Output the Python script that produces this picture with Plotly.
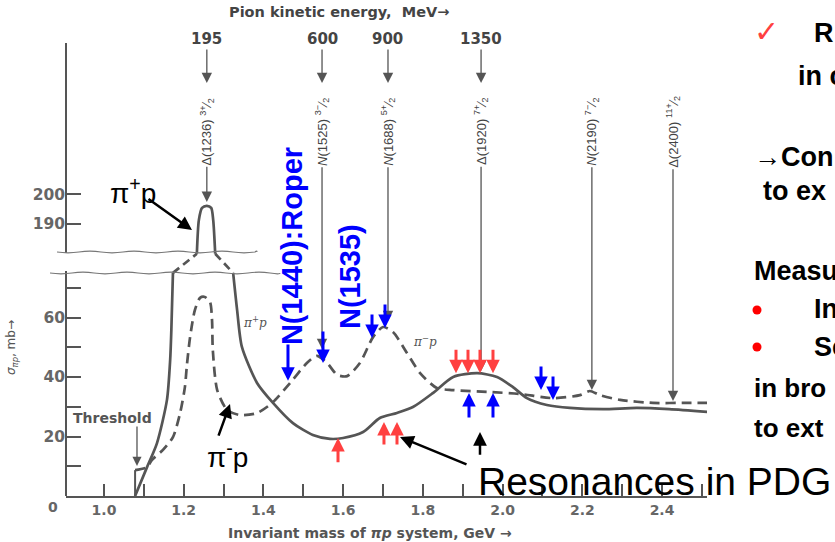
import plotly.graph_objects as go

# ---------------- values ----------------
# pi+ p total cross section (solid), invariant mass in GeV, sigma in mb
pip_mass = [1.078, 1.108, 1.133, 1.158, 1.166, 1.169, 1.173,
            1.233, 1.238, 1.246, 1.258, 1.269, 1.274, 1.279,
            1.324, 1.334, 1.346, 1.384, 1.424, 1.474, 1.524, 1.567, 1.600,
            1.650, 1.692, 1.735, 1.775, 1.825, 1.876, 1.936, 1.986, 2.026,
            2.061, 2.111, 2.169, 2.252, 2.337, 2.418, 2.520]
pip_sigma = [0, 9.7, 17.8, 32.3, 45.7, 55.8, 75,
             180, 191.3, 195.4, 196.1, 195.4, 191.3, 180,
             75, 62.5, 50.1, 38.0, 31.3, 24.5, 20.5, 19.2, 19.5,
             21.5, 26.2, 27.9, 29.9, 34.6, 40.0, 41.3, 40.0, 36.6,
             32.9, 30.6, 29.6, 29.2, 29.6, 29.2, 28.2]

# pi- p total cross section (dashed)
pim_mass = [1.078, 1.108, 1.120, 1.148, 1.173, 1.191, 1.203, 1.208, 1.216,
            1.228, 1.241, 1.253, 1.266, 1.271, 1.273, 1.284, 1.309, 1.341,
            1.384, 1.422, 1.467, 1.509, 1.534, 1.560, 1.585, 1.610, 1.642,
            1.675, 1.700, 1.725, 1.760, 1.793, 1.835, 1.876, 1.961, 2.044,
            2.126, 2.194, 2.219, 2.244, 2.295, 2.377, 2.463, 2.520]
pim_sigma = [8.7, 9.7, 12.1, 15.5, 19.8, 27.9, 36.6, 44.0, 53.4,
             62.5, 66.6, 66.9, 65.2, 59.2, 49.1, 35.6, 28.9, 27.2,
             27.9, 31.3, 38.0, 44.7, 47.1, 44.7, 40.7, 40.3, 44.7,
             53.4, 56.8, 55.1, 48.1, 41.3, 36.3, 35.6, 35.0, 34.3,
             32.9, 33.9, 35.3, 33.9, 32.3, 31.3, 31.3, 31.3]

x_tick_vals = [1.0, 1.1, 1.2, 1.3, 1.4, 1.5, 1.6, 1.7, 1.8, 1.9, 2.0, 2.1, 2.2, 2.3, 2.4, 2.5]
x_tick_text = ["1.0", "", "1.2", "", "1.4", "", "1.6", "", "1.8", "", "2.0", "", "2.2", "", "2.4", ""]
y_tick_vals = [10, 20, 30, 40, 50, 60, 70, 190, 200]
y_tick_text = ["", "20", "", "40", "", "60", "", "190", "200"]

# pion kinetic energy scale (top)
energy_text = ["195", "600", "900", "1350"]
energy_mass = [1.258, 1.547, 1.7125, 1.946]

# resonances marked on the figure
res_name = ["\u0394(1236)", "<i>N</i>(1525)", "<i>N</i>(1688)",
            "\u0394(1920)", "<i>N</i>(2190)", "\u0394(2400)"]
res_jp = [("3", "+"), ("3", "\u2212"), ("5", "+"), ("7", "+"), ("7", "\u2212"), ("11", "+")]
res_mass = [1.258, 1.547, 1.7125, 1.946, 2.224, 2.4275]
res_sigma = [197.4, 49.4, 58.8, 42.0, 35.6, 31.9]

# overlay arrows (mass, tail sigma, head sigma)
blue_mass = [1.4616, 1.5494, 1.6724, 1.7050, 2.0964, 2.1265, 1.9157, 1.9759]
blue_tail = [51.4, 55.8, 61.5, 64.9, 44.0, 40.7, 25.9, 25.9]
blue_head = [38.7, 44.7, 53.1, 56.5, 35.6, 32.3, 34.6, 34.6]
red_mass = [1.8831, 1.9132, 1.9433, 1.9759, 1.5871, 1.7024, 1.7351]
red_tail = [49.7, 49.7, 49.7, 49.7, 10.8, 16.8, 16.8]
red_head = [41.3, 41.3, 41.3, 41.3, 19.5, 24.9, 24.9]

# ---------------- broken y axis ----------------
GAP_LOW, GAP_HIGH = 75.0, 180.0          # sigma at the two break lines
GAP_LOW_POS, GAP_HIGH_POS = 75.0, 81.43  # axis position of the break lines


def ty(s):
    if s <= GAP_LOW:
        return s
    if s >= GAP_HIGH:
        return s - GAP_HIGH + GAP_HIGH_POS
    return GAP_LOW_POS + (s - GAP_LOW) * (GAP_HIGH_POS - GAP_LOW_POS) / (GAP_HIGH - GAP_LOW)


W, H = 835, 542
INK = "#555555"
FIG_FONT = "DejaVu Sans"
SANS = "Liberation Sans, Arial, sans-serif"
BLUE = "#0000FF"
RED = "#FF4040"

fig = go.Figure()


def add_curve(mass, sigma, dashed):
    runs, cur = [], [0]
    for i in range(len(mass) - 1):
        a, b = sigma[i], sigma[i + 1]
        cross = (a <= GAP_LOW and b >= GAP_HIGH) or (a >= GAP_HIGH and b <= GAP_LOW)
        if cross:
            if len(cur) > 1:
                runs.append((cur, False))
            runs.append(([i, i + 1], True))
            cur = [i + 1]
        else:
            cur.append(i + 1)
    if len(cur) > 1:
        runs.append((cur, False))
    for idx, gap in runs:
        fig.add_trace(go.Scatter(
            x=[mass[j] for j in idx], y=[ty(sigma[j]) for j in idx], mode="lines",
            line=dict(color=INK, width=2.7,
                      dash=("8px,5px" if gap else ("10px,6px" if dashed else "solid")),
                      shape=("linear" if gap else "spline"), smoothing=0.7),
            hoverinfo="skip", showlegend=False))


add_curve(pip_mass, pip_sigma, False)
add_curve(pim_mass, pim_sigma, True)
# vertical step of the pi- p curve at threshold
fig.add_trace(go.Scatter(x=[pim_mass[0], pim_mass[0]], y=[0, pim_sigma[0]], mode="lines",
                         line=dict(color=INK, width=2), hoverinfo="skip", showlegend=False))

ann = []


def arrow(x, y_tail, y_head, color, width, size, x_tail=None, text="", font=None, angle=0):
    a = dict(x=x, y=y_head, ax=(x if x_tail is None else x_tail), ay=y_tail,
             xref="x", yref="y", axref="x", ayref="y", text=text, showarrow=True,
             arrowhead=2, arrowsize=size, arrowwidth=width, arrowcolor=color,
             textangle=angle, standoff=0)
    if font:
        a["font"] = font
    ann.append(a)


def label(x, y, text, size, color=INK, family=SANS, angle=0, xanchor="center",
          xref="x", yref="y"):
    ann.append(dict(x=x, y=y, xref=xref, yref=yref, text=text, showarrow=False,
                    font=dict(family=family, size=size, color=color),
                    textangle=angle, xanchor=xanchor, yanchor="middle"))


# top energy scale
for t, m in zip(energy_text, energy_mass):
    arrow(m, 153.6, 138.8, INK, 1.3, 1.6, text="<b>" + t + "</b>",
          font=dict(family=FIG_FONT, size=15, color="#444"))
label(1.5896, 162.7, "<b>Pion kinetic energy,  MeV\u2192</b>", 14.5, "#444", FIG_FONT)

# resonance markers
for nm, (j, p), m, s in zip(res_name, res_jp, res_mass, res_sigma):
    t = "%s <sup>%s%s</sup>\u2044<sub>2</sub>" % (nm, j, p)
    arrow(m, 122.4, ty(s), INK, 1.3, 1.6, text=t,
          font=dict(family=SANS, size=13, color="#444"), angle=-90)

# threshold
arrow(1.0828, 23.9, 10.1, INK, 1.3, 1.4)
label(1.0201, 26.2, "<b>Threshold</b>", 14, "#555", FIG_FONT)

# small curve labels
label(1.3788, 58.5, "<i>\u03c0<sup>+</sup>p</i>", 12, "#555", "DejaVu Serif")
label(1.8053, 52.1, "<i>\u03c0<sup>\u2212</sup>p</i>", 12, "#555", "DejaVu Serif")

# coloured overlay arrows
for m, a, b in zip(blue_mass, blue_tail, blue_head):
    arrow(m, a, b, BLUE, 3, 0.9)
for m, a, b in zip(red_mass, red_tail, red_head):
    arrow(m, a, b, RED, 3, 0.9)

# black pointer arrows
arrow(1.2208, 100.2, 89.4, "black", 2.5, 1.1, x_tail=1.1079)
arrow(1.3161, 19.8, 30.9, "black", 2.5, 1.1, x_tail=1.2860)
arrow(1.7426, 10.4, 19.8, "black", 2.5, 1.1, x_tail=1.9132)
arrow(1.9433, 13.4, 21.5, "black", 2.5, 1.1)

label(1.0728, 102.5, "\u03c0<sup>+</sup>p", 28, "black")
label(1.3086, 13.8, "\u03c0<sup>-</sup>p", 28, "black")
label(1.9333, 5.0, "Resonances in PDG", 39, "black", xanchor="left")

label(1.4717, 84.0, "<b>N(1440):Roper</b>", 29, BLUE, angle=-90)
label(1.6172, 73.6, "<b>N(1535)</b>", 29, BLUE, angle=-90)

# axis titles and origin label
label(370 / W, (H - 533) / H, "<b>Invariant mass of <i>\u03c0p</i> system, GeV \u2192</b>", 14, "#555",
      FIG_FONT, xref="paper", yref="paper")
label(12 / W, (H - 348) / H, "<i>\u03c3<sub>\u03c0p</sub></i>, mb\u2192", 12, "#555", FIG_FONT,
      angle=-90, xref="paper", yref="paper")
label(53 / W, (H - 507) / H, "<b>0</b>", 14, "#666", FIG_FONT, xref="paper", yref="paper")

# slide text on the right (only the part inside the page)
slide = [("\u2713", 752, 31, RED, False, 30),
         ("R", 812, 33, "black", True, 27),
         ("in c", 796, 76, "black", True, 27),
         ("\u2192<b>Con</b>", 752, 157, "black", False, 27),
         ("to ex", 761, 191, "black", True, 27),
         ("Measu", 752, 271, "black", True, 27),
         ("In", 812, 309, "black", True, 27),
         ("Se", 812, 347, "black", True, 27),
         ("in bro", 752, 388, "black", True, 26),
         ("to ext", 752, 428, "black", True, 26)]
for txt, px, py, col, bold, sz in slide:
    label(px / W, (H - py) / H, ("<b>%s</b>" % txt) if bold else txt, sz, col,
          xanchor="left", xref="paper", yref="paper")

# ---------------- axis line, break marks, bullets ----------------
shapes = []
AX = 66 / W
shapes.append(dict(type="line", xref="paper", yref="paper", x0=AX, x1=AX,
                   y0=46 / H, y1=(H - 271) / H, line=dict(color=INK, width=2)))
shapes.append(dict(type="line", xref="paper", yref="paper", x0=AX, x1=AX,
                   y0=(H - 253) / H, y1=(H - 43) / H, line=dict(color=INK, width=2)))

for by in (310, 347):
    shapes.append(dict(type="circle", xref="paper", yref="paper",
                       x0=(757 - 4.5) / W, x1=(757 + 4.5) / W,
                       y0=(H - by - 4.5) / H, y1=(H - by + 4.5) / H,
                       fillcolor="#FF0000", line=dict(width=0)))


def wavy(px0, px1, py, amp=1.6, wl=22):
    p = "M %.5f,%.5f" % (px0 / W, (H - py) / H)
    x = px0
    k = 0
    while x < px1:
        xm = min(x + wl / 2, px1)
        xe = min(x + wl, px1)
        s = 1 if k % 2 == 0 else -1
        p += " Q %.5f,%.5f %.5f,%.5f" % (xm / W, (H - py - s * amp) / H, xe / W, (H - py) / H)
        x = xe
        k += 1
    return p


shapes.append(dict(type="path", xref="paper", yref="paper", path=wavy(57, 257, 252),
                   line=dict(color="#777", width=1.2)))
shapes.append(dict(type="path", xref="paper", yref="paper", path=wavy(50, 280, 273),
                   line=dict(color="#777", width=1.2)))

fig.update_layout(
    width=W, height=H, margin=dict(l=0, r=0, t=0, b=0),
    paper_bgcolor="white", plot_bgcolor="white",
    showlegend=False, annotations=ann, shapes=shapes,
    xaxis=dict(domain=[66 / W, 707 / W], range=[0.9047, 2.5128], showline=True,
               linecolor=INK, linewidth=2, ticks="inside", ticklen=12, tickwidth=2,
               tickcolor=INK, tickvals=x_tick_vals, ticktext=x_tick_text,
               tickfont=dict(family=FIG_FONT, size=14, color="#666", weight="bold"),
               showgrid=False, zeroline=False, fixedrange=True),
    yaxis=dict(domain=[46 / H, 1.0], range=[0, 166.72], showline=False,
               ticks="inside", ticklen=15, tickwidth=2, tickcolor=INK,
               tickvals=[ty(v) for v in y_tick_vals], ticktext=y_tick_text,
               tickfont=dict(family=FIG_FONT, size=15.5, color="#666", weight="bold"),
               showgrid=False, zeroline=False, fixedrange=True),
)

fig.write_html("out.html")
